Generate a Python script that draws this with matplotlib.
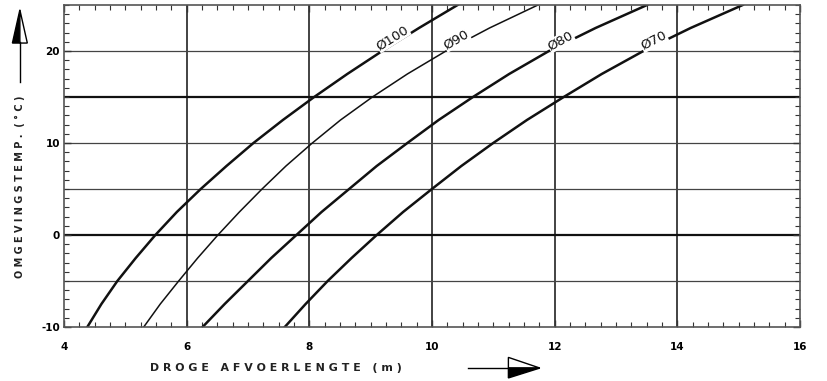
import numpy as np
import matplotlib
matplotlib.use("Agg")
import matplotlib.pyplot as plt
from matplotlib.patches import Polygon
from matplotlib.ticker import MultipleLocator

plt.rcParams["axes.unicode_minus"] = False

# temperatuur (degC) en bijbehorende droge afvoerlengte (m) per diameter
temp = [-10, -7.5, -5, -2.5, 0, 2.5, 5, 7.5, 10, 12.5, 15, 17.5, 20, 22.5, 25]
len_100 = [4.38, 4.61, 4.87, 5.17, 5.49, 5.84, 6.23, 6.65, 7.09, 7.57, 8.08, 8.62, 9.19, 9.79, 10.42]
len_90 = [5.3, 5.57, 5.87, 6.18, 6.51, 6.86, 7.23, 7.62, 8.05, 8.51, 9.03, 9.6, 10.23, 10.94, 11.73]
len_80 = [6.26, 6.62, 7.0, 7.38, 7.79, 8.2, 8.65, 9.1, 9.6, 10.11, 10.67, 11.26, 11.91, 12.67, 13.51]
len_70 = [7.6, 7.94, 8.3, 8.69, 9.1, 9.53, 10.0, 10.48, 11.0, 11.55, 12.15, 12.77, 13.45, 14.22, 15.07]

labels = ["Ø100", "Ø90", "Ø80", "Ø70"]
label_pos = [(9.36, 21.4), (10.4, 21.2), (12.1, 21.1), (13.62, 21.1)]
label_rot = [32, 30, 29, 27]

fig = plt.figure(figsize=(8.28, 3.81), dpi=100)
ax = fig.add_axes([0.0773, 0.1417, 0.8887, 0.8453])

ax.set_xlim(4, 16)
ax.set_ylim(-10, 25)

# raster
for xv in [6, 8, 10, 12, 14]:
    ax.axvline(xv, color="#222222", lw=1.2, zorder=1)
for yv in [-5, 5, 10, 20]:
    ax.axhline(yv, color="#444444", lw=0.9, zorder=1)
for yv in [0, 15]:
    ax.axhline(yv, color="#111111", lw=1.6, zorder=1)

widths = [1.8, 1.1, 1.8, 1.8]
for xs, lw in zip([len_100, len_90, len_80, len_70], widths):
    ax.plot(xs, temp, color="#111111", lw=lw, zorder=2, solid_joinstyle="round")

for lab, (lx, ly), rot in zip(labels, label_pos, label_rot):
    ax.text(lx, ly, lab, rotation=rot, ha="center", va="center", fontsize=9.5,
            color="#111111", zorder=3, rotation_mode="anchor",
            bbox=dict(boxstyle="square,pad=0.02", fc="white", ec="none"))

ax.xaxis.set_major_locator(MultipleLocator(2))
ax.xaxis.set_minor_locator(MultipleLocator(0.25))
ax.yaxis.set_major_locator(MultipleLocator(10))
ax.yaxis.set_minor_locator(MultipleLocator(1))
ax.tick_params(which="both", direction="in", top=True, right=True, color="#333333")
ax.tick_params(which="major", length=5, width=1, labelsize=7.5)
ax.tick_params(which="minor", length=3.5, width=0.8)
ax.tick_params(axis="x", which="major", pad=11)
ax.tick_params(axis="y", which="major", pad=3)
for t in ax.get_xticklabels() + ax.get_yticklabels():
    t.set_fontweight("bold")
for sp in ax.spines.values():
    sp.set_color("#555555")
    sp.set_linewidth(1.2)

fig.text(0.181, 0.034, "D R O G E   A F V O E R L E N G T E   ( m )", fontsize=7.9,
         fontweight="bold", color="#222222", ha="left", va="center")
fig.text(0.024, 0.51, "O M G E V I N G S T E M P .  ( ° C )", fontsize=7,
         fontweight="bold", color="#222222", rotation=90, ha="center", va="center")

# pijlen
tf = fig.transFigure
fig.add_artist(plt.Line2D([0.565, 0.615], [0.034, 0.034], color="black", lw=1, transform=tf))
fig.add_artist(Polygon([[0.614, 0.062], [0.652, 0.034], [0.614, 0.034]], closed=True,
                       fc="white", ec="black", lw=1, transform=tf))
fig.add_artist(Polygon([[0.614, 0.008], [0.652, 0.034], [0.614, 0.034]], closed=True,
                       fc="black", ec="black", lw=1, transform=tf))
fig.add_artist(plt.Line2D([0.024, 0.024], [0.785, 0.89], color="black", lw=1, transform=tf))
fig.add_artist(Polygon([[0.024, 0.974], [0.015, 0.887], [0.024, 0.887]], closed=True,
                       fc="black", ec="black", lw=1, transform=tf))
fig.add_artist(Polygon([[0.024, 0.974], [0.033, 0.887], [0.024, 0.887]], closed=True,
                       fc="white", ec="black", lw=1, transform=tf))

fig.savefig("out.png", dpi=100)
